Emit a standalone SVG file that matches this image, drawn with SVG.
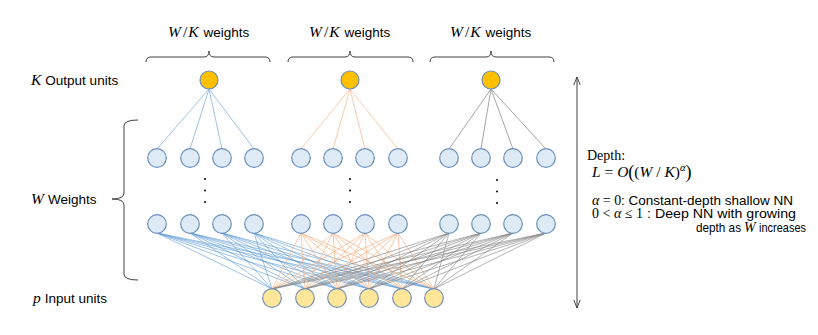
<svg xmlns="http://www.w3.org/2000/svg" width="818" height="335" viewBox="0 0 818 335">
<style>
.sans{font-family:"Liberation Sans",Arial,sans-serif;font-size:13.5px;fill:#000}
.serif{font-family:"Liberation Serif","Times New Roman",serif;fill:#000}
.it{font-style:italic}
.out{fill:#FFC000;stroke:#6E8DB0;stroke-width:1.2}
.hid{fill:#DEEBF7;stroke:#6A8FBC;stroke-width:1.2}
.inp{fill:#FFE699;stroke:#7391B5;stroke-width:1.2}
.brace{fill:none;stroke:#404040;stroke-width:1}
.dot{fill:#000}
.c1{fill:none;stroke:#9DC3E6;stroke-width:1}
.c2{fill:none;stroke:#F8CBAD;stroke-width:1}
.c3{fill:none;stroke:#A6A6A6;stroke-width:1}
.b1{fill:none;stroke:#5B9BD5;stroke-width:0.8;stroke-opacity:0.75}
.b2{fill:none;stroke:#F4B183;stroke-width:0.8;stroke-opacity:0.85}
.b3{fill:none;stroke:#7F7F7F;stroke-width:0.8;stroke-opacity:0.75}
</style>
<defs>
<marker id="ah" viewBox="0 0 10 10" refX="10" refY="5" markerWidth="8" markerHeight="8" orient="auto-start-reverse" markerUnits="userSpaceOnUse">
<path d="M0,1 L10,5 L0,9" fill="none" stroke="#404040" stroke-width="1.2"/>
</marker>
</defs>
<rect width="818" height="335" fill="#fff"/>

<g id="connectors">
<path class="c1" d="M209,89L157,149M209,89L190,149M209,89L222,149M209,89L254,149"/>
<path class="c2" d="M350,89L301,149M350,89L333,149M350,89L365,149M350,89L398,149"/>
<path class="c3" d="M491,89L449,149M491,89L481,149M491,89L513,149M491,89L546,149"/>
<path class="b1" d="M157,233L272,289M157,233L305,289M157,233L337,289M157,233L369,289M157,233L402,289M157,233L434,289
M190,233L272,289M190,233L305,289M190,233L337,289M190,233L369,289M190,233L402,289M190,233L434,289
M222,233L272,289M222,233L305,289M222,233L337,289M222,233L369,289M222,233L402,289M222,233L434,289
M254,233L272,289M254,233L305,289M254,233L337,289M254,233L369,289M254,233L402,289M254,233L434,289"/>
<path class="b2" d="M301,233L272,289M301,233L305,289M301,233L337,289M301,233L369,289M301,233L402,289M301,233L434,289
M333,233L272,289M333,233L305,289M333,233L337,289M333,233L369,289M333,233L402,289M333,233L434,289
M365,233L272,289M365,233L305,289M365,233L337,289M365,233L369,289M365,233L402,289M365,233L434,289
M398,233L272,289M398,233L305,289M398,233L337,289M398,233L369,289M398,233L402,289M398,233L434,289"/>
<path class="b3" d="M449,233L272,289M449,233L305,289M449,233L337,289M449,233L369,289M449,233L402,289M449,233L434,289
M481,233L272,289M481,233L305,289M481,233L337,289M481,233L369,289M481,233L402,289M481,233L434,289
M513,233L272,289M513,233L305,289M513,233L337,289M513,233L369,289M513,233L402,289M513,233L434,289
M546,233L272,289M546,233L305,289M546,233L337,289M546,233L369,289M546,233L402,289M546,233L434,289"/>
</g>

<g id="output-units">
<circle class="out" cx="209" cy="80" r="9"/>
<circle class="out" cx="350" cy="80" r="9"/>
<circle class="out" cx="491" cy="80" r="9"/>
</g>

<g id="hidden-top">
<circle class="hid" cx="157" cy="158" r="9.3"/>
<circle class="hid" cx="190" cy="158" r="9.3"/>
<circle class="hid" cx="222" cy="158" r="9.3"/>
<circle class="hid" cx="254" cy="158" r="9.3"/>
<circle class="hid" cx="301" cy="158" r="9.3"/>
<circle class="hid" cx="333" cy="158" r="9.3"/>
<circle class="hid" cx="365" cy="158" r="9.3"/>
<circle class="hid" cx="398" cy="158" r="9.3"/>
<circle class="hid" cx="449" cy="158" r="9.3"/>
<circle class="hid" cx="481" cy="158" r="9.3"/>
<circle class="hid" cx="513" cy="158" r="9.3"/>
<circle class="hid" cx="546" cy="158" r="9.3"/>
</g>

<g id="ellipses">
<circle class="dot" cx="205" cy="179" r="1"/><circle class="dot" cx="205" cy="190.5" r="1"/><circle class="dot" cx="205" cy="202" r="1"/>
<circle class="dot" cx="350" cy="179" r="1"/><circle class="dot" cx="350" cy="190.5" r="1"/><circle class="dot" cx="350" cy="202" r="1"/>
<circle class="dot" cx="497" cy="180" r="1"/><circle class="dot" cx="497" cy="191.5" r="1"/><circle class="dot" cx="497" cy="203" r="1"/>
</g>

<g id="hidden-bottom">
<circle class="hid" cx="157" cy="224" r="9.3"/>
<circle class="hid" cx="190" cy="224" r="9.3"/>
<circle class="hid" cx="222" cy="224" r="9.3"/>
<circle class="hid" cx="254" cy="224" r="9.3"/>
<circle class="hid" cx="301" cy="224" r="9.3"/>
<circle class="hid" cx="333" cy="224" r="9.3"/>
<circle class="hid" cx="365" cy="224" r="9.3"/>
<circle class="hid" cx="398" cy="224" r="9.3"/>
<circle class="hid" cx="449" cy="224" r="9.3"/>
<circle class="hid" cx="481" cy="224" r="9.3"/>
<circle class="hid" cx="513" cy="224" r="9.3"/>
<circle class="hid" cx="546" cy="224" r="9.3"/>
</g>

<g id="input-units">
<circle class="inp" cx="272" cy="298" r="9.3"/>
<circle class="inp" cx="305" cy="298" r="9.3"/>
<circle class="inp" cx="337" cy="298" r="9.3"/>
<circle class="inp" cx="369" cy="298" r="9.3"/>
<circle class="inp" cx="402" cy="298" r="9.3"/>
<circle class="inp" cx="434" cy="298" r="9.3"/>
</g>

<g id="top-braces">
<path class="brace" d="M146,62 Q146,57 151,57 L204,57 Q209,57 209,51 Q209,57 214,57 L265,57 Q270,57 270,62"/>
<path class="brace" d="M288,62 Q288,57 293,57 L345,57 Q350,57 350,51 Q350,57 355,57 L408,57 Q413,57 413,62"/>
<path class="brace" d="M430,62 Q430,57 435,57 L486,57 Q491,57 491,51 Q491,57 496,57 L549,57 Q554,57 554,62"/>
<text x="168" y="37"><tspan class="serif it" font-size="15.5">W</tspan><tspan class="serif" font-size="15.5" dx="2">/</tspan><tspan class="serif it" font-size="15.5" dx="1">K</tspan><tspan class="sans" dx="5">weights</tspan></text>
<text x="309" y="37"><tspan class="serif it" font-size="15.5">W</tspan><tspan class="serif" font-size="15.5" dx="2">/</tspan><tspan class="serif it" font-size="15.5" dx="1">K</tspan><tspan class="sans" dx="5">weights</tspan></text>
<text x="450" y="37"><tspan class="serif it" font-size="15.5">W</tspan><tspan class="serif" font-size="15.5" dx="2">/</tspan><tspan class="serif it" font-size="15.5" dx="1">K</tspan><tspan class="sans" dx="5">weights</tspan></text>
</g>

<g id="left-labels">
<text x="31" y="85"><tspan class="serif it" font-size="15.5">K</tspan><tspan class="sans" dx="4">Output units</tspan></text>
<text x="31" y="204"><tspan class="serif it" font-size="15.5">W</tspan><tspan class="sans" dx="4">Weights</tspan></text>
<text x="33" y="303"><tspan class="serif it" font-size="15.5">p</tspan><tspan class="sans" dx="4">Input units</tspan></text>
<path class="brace" d="M138,120 Q124,120 124,126 L124,193 Q124,199 112,199 Q124,199 124,205 L124,274 Q124,280 138,280"/>
</g>

<g id="depth">
<line x1="577" y1="77" x2="577" y2="308" stroke="#404040" stroke-width="1" marker-start="url(#ah)" marker-end="url(#ah)"/>
<text class="serif" font-size="14" x="587" y="159.5">Depth:</text>
<text x="592" y="177" class="serif" font-size="15.5"><tspan class="it">L</tspan> = <tspan class="it">O</tspan><tspan font-size="18" dy="1">(</tspan><tspan dy="-1">(</tspan><tspan class="it">W</tspan> / <tspan class="it">K</tspan>)<tspan class="it" font-size="10.5" dy="-6">α</tspan><tspan font-size="18" dy="7">)</tspan></text>
<text x="592" y="204.5" class="serif" font-size="14"><tspan class="it">α</tspan> = 0</text>
<text x="621" y="204.5" class="sans" font-size="12.5" textLength="172" lengthAdjust="spacingAndGlyphs">: Constant-depth shallow NN</text>
<text x="592" y="218" class="serif" font-size="14">0 &lt; <tspan class="it">α</tspan> ≤ 1</text>
<text x="647" y="218" class="sans" font-size="12.5" textLength="149" lengthAdjust="spacingAndGlyphs">: Deep NN with growing</text>
<text x="696" y="232" class="sans" font-size="12.5" textLength="45" lengthAdjust="spacingAndGlyphs">depth as</text>
<text x="744" y="232" class="serif it" font-size="14">W</text>
<text x="759" y="232" class="sans" font-size="12.5" textLength="47" lengthAdjust="spacingAndGlyphs">increases</text>
</g>
</svg>
